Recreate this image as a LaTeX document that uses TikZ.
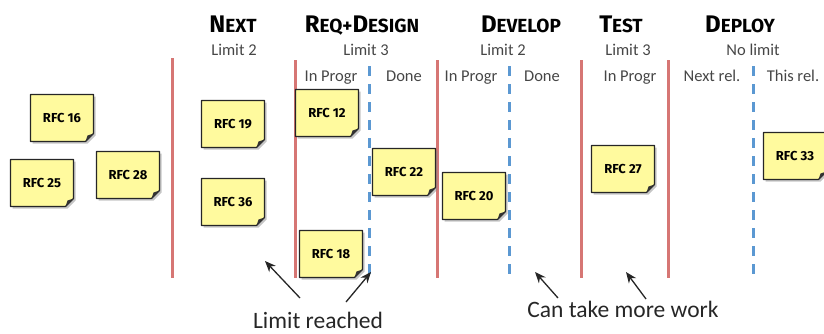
\documentclass[tikz,border=0pt]{standalone}
\usepackage{fontspec}
\setmainfont{Carlito}
\newfontfamily\headfont{Fira Sans}
\newfontfamily\notefont{Fira Sans}
\usetikzlibrary{arrows.meta}

\definecolor{lanered}{RGB}{214,118,116}
\definecolor{laneblue}{RGB}{91,152,210}
\definecolor{labelgray}{RGB}{70,70,70}
\definecolor{notefill}{RGB}{255,250,158}

% heading in hand-made small caps: large first letter, smaller rest
\newcommand\hdbig[1]{{\fontsize{24}{24}\selectfont #1}}
\newcommand\hdsmall[1]{{\fontsize{19}{19}\selectfont #1}}

% one sticky note: node name, centre, number
\newcommand\rfcnote[3]{%
  \begin{scope}[shift={#2}]
    \fill[notedrop] (-29.5,-21.5) -- (33.5,-21.5) -- (33.5,17.5) -- (25.5,25.5) -- (-29.5,25.5) -- cycle;
    \draw[notebody] (-31.5,-23.5) -- (31.5,-23.5) -- (31.5,15.5) -- (23.5,23.5) -- (-31.5,23.5) -- cycle;
    \fill[notefold] (31.5,15.5) -- (23.5,23.5) -- (25.5,17.5) -- cycle;
    \node[notelabel] (#1) at (0,0) {RFC #3};
  \end{scope}}

\tikzset{
  x=1pt, y=-1pt,
  lane/.style={draw=lanered, line width=3pt},
  sublane/.style={draw=laneblue, line width=3pt, dash pattern=on 10pt off 8pt},
  head/.style={font=\headfont\bfseries, anchor=base, inner sep=0},
  limit/.style={font=\fontsize{16.5}{16.5}\selectfont, text=labelgray, anchor=base, inner sep=0},
  callout/.style={font=\fontsize{23.5}{23.5}\selectfont, text=black!85, anchor=base, inner sep=0},
  notebody/.style={fill=notefill, draw=black!85, line width=1.1pt, line join=round},
  notedrop/.style={fill=black!45, opacity=0.5},
  notefold/.style={fill=black!80},
  notelabel/.style={font=\notefont\bfseries\fontsize{13}{13}\selectfont, inner sep=0},
  pointer/.style={-{Stealth[length=11pt,width=9pt]}, line width=1.3pt, draw=black!85},
}

\begin{document}
\begin{tikzpicture}
\useasboundingbox (0,0) rectangle (824,333);

% column headings
\node[head] (hnext) at (233,32) {\hdbig{N}\hdsmall{EXT}};
\node[head] (hreq) at (362,32) {\hdbig{R}\hdsmall{EQ+}\hdbig{D}\hdsmall{ESIGN}};
\node[head] (hdev) at (521,32) {\hdbig{D}\hdsmall{EVELOP}};
\node[head] (htest) at (621,32) {\hdbig{T}\hdsmall{EST}};
\node[head] (hdep) at (740,32) {\hdbig{D}\hdsmall{EPLOY}};

% WIP limits
\node[limit] (lnext) at (234,55) {Limit 2};
\node[limit] (lreq) at (366,55) {Limit 3};
\node[limit] (ldev) at (503,55) {Limit 2};
\node[limit] (ltest) at (628,55) {Limit 3};
\node[limit] (ldep) at (753,55) {No limit};

% sub-column labels
\node[limit] (sreqa) at (331,81) {In Progr};
\node[limit] (sreqb) at (404,81) {Done};
\node[limit] (sdeva) at (471,81) {In Progr};
\node[limit] (sdevb) at (542,81) {Done};
\node[limit] (stesta) at (630,81) {In Progr};
\node[limit] (sdepa) at (712,81) {Next rel.};
\node[limit] (sdepb) at (793,81) {This rel.};

% column borders
\coordinate (c1t) at (172,58);  \coordinate (c1b) at (172,278);
\coordinate (c2t) at (295,60);  \coordinate (c2b) at (295,278);
\coordinate (c3t) at (437,60);  \coordinate (c3b) at (437,278);
\coordinate (c4t) at (581,60);  \coordinate (c4b) at (581,278);
\coordinate (c5t) at (668,60);  \coordinate (c5b) at (668,278);
\draw[lane] (c1t) -- (c1b);
\draw[lane] (c2t) -- (c2b);
\draw[lane] (c3t) -- (c3b);
\draw[lane] (c4t) -- (c4b);
\draw[lane] (c5t) -- (c5b);

% sub-column borders
\coordinate (d1t) at (369,66);  \coordinate (d1b) at (369,278);
\coordinate (d2t) at (509,66);  \coordinate (d2b) at (509,278);
\coordinate (d3t) at (753,66);  \coordinate (d3b) at (753,278);
\draw[sublane] (d1t) -- (d1b);
\draw[sublane] (d2t) -- (d2b);
\draw[sublane] (d3t) -- (d3b);

% sticky notes
\rfcnote{n16}{(62,118)}{16}
\rfcnote{n25}{(42,183)}{25}
\rfcnote{n28}{(128,175)}{28}
\rfcnote{n19}{(233,124)}{19}
\rfcnote{n36}{(233,202)}{36}
\rfcnote{n12}{(327,113)}{12}
\rfcnote{n22}{(404,172)}{22}
\rfcnote{n18}{(331,254)}{18}
\rfcnote{n20}{(474,196)}{20}
\rfcnote{n27}{(623,169)}{27}
\rfcnote{n33}{(795,156)}{33}

% call-outs
\node[callout] (reached) at (318,328) {Limit reached};
\node[callout] (morework) at (623,317) {Can take more work};

\coordinate (a1s) at (300,298); \coordinate (a1e) at (265,261);
\coordinate (a2s) at (346,302); \coordinate (a2e) at (371,272);
\coordinate (a3s) at (558,298); \coordinate (a3e) at (535,272);
\coordinate (a4s) at (646,299); \coordinate (a4e) at (626,272);
\draw[pointer] (a1s) -- (a1e);
\draw[pointer] (a2s) -- (a2e);
\draw[pointer] (a3s) -- (a3e);
\draw[pointer] (a4s) -- (a4e);
\end{tikzpicture}
\end{document}
